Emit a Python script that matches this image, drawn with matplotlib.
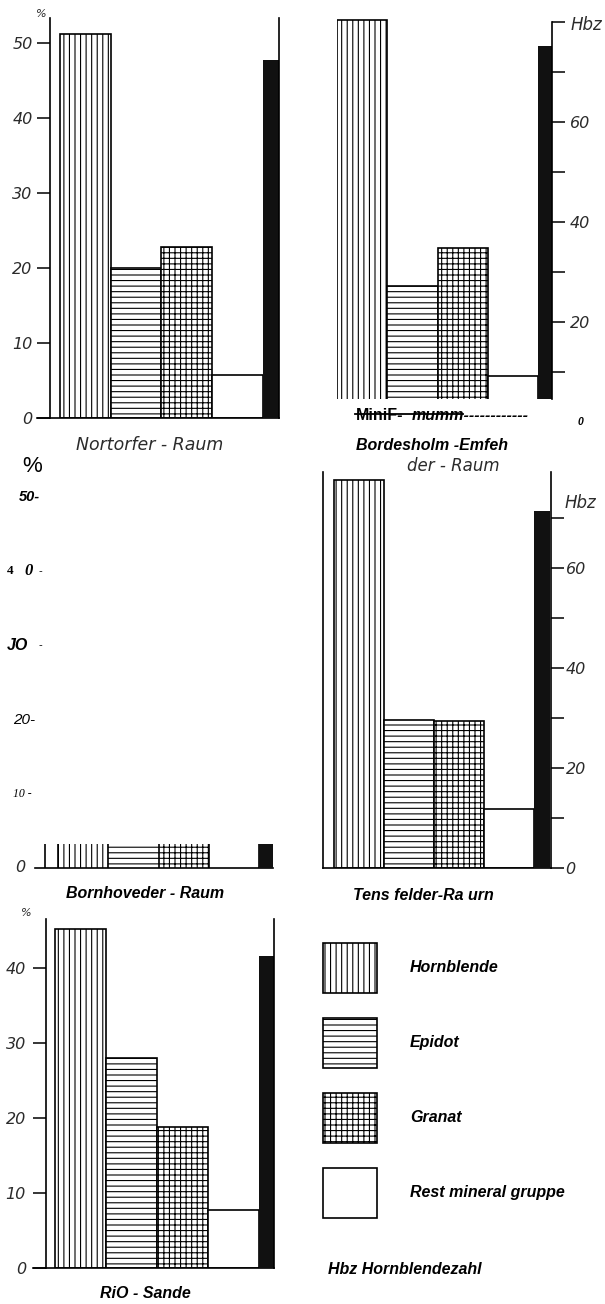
import matplotlib.pyplot as plt
from matplotlib.patches import Patch
from matplotlib.lines import Line2D

W, H = 605, 1304
PX_HBZ = 5.0  # pixels per Hbz unit (right scale)

minerals = ['Hornblende', 'Epidot', 'Granat', 'Rest mineral gruppe']
hatches = ['|||', '---', '+++', '']

# Anteile in %, schwarzer Balken = Hornblendezahl (Hbz)
nortorf = [51.2, 20.0, 22.8, 5.7]
nortorf_hbz = 71.7
bordesholm = [53.6, 18.2, 23.2, 6.2]
bordesholm_hbz = 75.3
bornhoved = [3.2, 3.2, 3.2, 3.2]   # im Scan nur die Stümpfe sichtbar
bornhoved_hbz = 4.8
tensfeld = [51.7, 19.8, 19.6, 7.9]
tensfeld_hbz = 71.4
rio = [45.2, 28.0, 18.8, 7.8]
rio_hbz = 62.4

pct_ticks = [0, 10, 20, 30, 40, 50]
rio_ticks = [0, 10, 20, 30, 40]
bornhoved_labels = ['0', '10 -', '20-', 'JO -', '4 0 -', '50-']
hbz_ticks_top = [10, 20, 30, 40, 50, 60, 70, 80]
hbz_labels_top = ['', '20', '', '40', '', '60', '', '']
hbz_ticks = [0, 10, 20, 30, 40, 50, 60, 70]
hbz_labels = ['0', '', '20', '', '40', '', '60', '']

plt.rcParams['hatch.linewidth'] = 0.8
SCAN = dict(family='DejaVu Sans', style='italic', color='#2b2b2b')
OCR = dict(family='Liberation Sans', style='italic', weight='bold', color='black')

fig = plt.figure(figsize=(W / 100, H / 100), dpi=100)
fig.patch.set_facecolor('white')


def ftext(x, y, s, **kw):
    return fig.text(x / W, 1 - y / H, s, **kw)


def panel(box, bar0, unit, base, vals, hbz, bw, px_pct=7.5, stub=False):
    left, right, top, bottom = box
    ax = fig.add_axes([left / W, 1 - bottom / H, (right - left) / W, (bottom - top) / H])
    ax.set_xlim((left - bar0) / unit, (right - bar0) / unit)
    ax.set_ylim((base - bottom) / px_pct, (base - top) / px_pct)
    tw = ax.twinx()
    lo, hi = ax.get_ylim()
    tw.set_ylim(lo * px_pct / PX_HBZ, hi * px_pct / PX_HBZ)
    for a in (ax, tw):
        a.patch.set_visible(False)
        for s in a.spines.values():
            s.set_visible(False)
            s.set_linewidth(1.2)
        a.set_xticks([])
        a.set_yticks([])
    for i, v in enumerate(vals):
        ax.bar(i, v, width=1, align='edge', facecolor='white', edgecolor='black',
               hatch=hatches[i], linewidth=0 if stub else 1.2)
    if stub:
        # only the sides of the cut-off bars are visible
        ax.vlines(range(len(vals) + 1), 0, max(vals), color='black', linewidth=1.2)
    tw.bar(len(vals), hbz, width=bw, align='edge', color='#111111', linewidth=0)
    return ax, tw


def style_ticks(a, side, pad):
    a.tick_params(axis='y', direction='out', length=9.5, width=1.1, pad=pad,
                  labelsize=11.5, labelcolor='#2b2b2b')
    if side == 'right':
        a.tick_params(axis='y', right=True, labelright=True, left=False, labelleft=False)
    for t in a.get_yticklabels():
        t.set_fontstyle('italic')


# --- Nortorfer-Raum ---
ax, tw = panel((37, 279, 18, 418), 60, 50.7, 418, nortorf, nortorf_hbz, 0.32)
ax.spines['left'].set_visible(True)
ax.spines['left'].set_position(('data', (50 - 60) / 50.7))
ax.spines['bottom'].set_visible(True)
tw.spines['right'].set_visible(True)
ax.set_yticks(pct_ticks)
style_ticks(ax, 'left', 3)
ftext(41, 14, '%', fontsize=8, va='center', ha='center', **SCAN)
ftext(150, 445, 'Nortorfer - Raum', fontsize=12.5, ha='center', va='center', **SCAN)

# --- Bordesholm (unten abgeschnitten) ---
ax, tw = panel((337, 552, 18, 399), 337, 50.25, 422, bordesholm, bordesholm_hbz, 0.28)
tw.spines['right'].set_visible(True)
tw.spines['right'].set_bounds(tw.get_ylim()[0], 80)
tw.set_yticks(hbz_ticks_top, labels=hbz_labels_top)
style_ticks(tw, 'right', 3.5)
ftext(571, 25, 'Hbz', fontsize=12, va='center', ha='left', **SCAN)
ftext(356, 416, 'MiniF-', fontsize=11.5, ha='left', va='center', family='Liberation Sans', weight='bold')
ftext(412, 416, 'mumm------------', fontsize=11.5, ha='left', va='center', **OCR)
fig.add_artist(Line2D([355 / W, 463 / W], [1 - 414 / H, 1 - 414 / H], color='black', linewidth=1.3))
ftext(580, 422, '0', fontsize=7.5, ha='center', va='center', **OCR)
ftext(432, 445, 'Bordesholm -Emfeh', fontsize=11.5, ha='center', va='center', **OCR)
ftext(453, 466, 'der - Raum', fontsize=12, ha='center', va='center', **SCAN)

# --- Bornhoveder-Raum (nur Stümpfe) ---
ax, tw = panel((35, 273, 472, 868), 58, 50.25, 868, bornhoved, bornhoved_hbz, 0.28,
               px_pct=7.42, stub=True)
ax.spines['bottom'].set_visible(True)
ax.vlines((45 - 58) / 50.25, 0, max(bornhoved), color='black', linewidth=1.2)
yt = ax.get_yaxis_transform()
ax.text(-0.04, pct_ticks[0], bornhoved_labels[0], transform=yt, fontsize=11.5, ha='right', va='center', **SCAN)
ax.text(-0.015, pct_ticks[1], bornhoved_labels[1], transform=yt, fontsize=8.5, ha='right', va='center',
        family='Liberation Serif', style='italic')
ax.text(-0.0, pct_ticks[2], bornhoved_labels[2], transform=yt, fontsize=11, ha='right', va='center',
        family='Liberation Sans', style='italic')
ax.text(-0.12, pct_ticks[3], 'JO', transform=yt, fontsize=11.5, ha='left', va='center', **OCR)
ax.text(0.03, pct_ticks[3], '-', transform=yt, fontsize=8, ha='right', va='center', family='Liberation Sans')
ax.text(-0.12, pct_ticks[4], '4', transform=yt, fontsize=9.5, ha='left', va='center',
        family='Liberation Serif', weight='bold')
ax.text(-0.045, pct_ticks[4], '0', transform=yt, fontsize=12, ha='left', va='center',
        family='Liberation Serif', weight='bold', style='italic')
ax.text(0.03, pct_ticks[4], '-', transform=yt, fontsize=8, ha='right', va='center', family='Liberation Sans')
ax.text(0.02, pct_ticks[5], bornhoved_labels[5], transform=yt, fontsize=10.5, ha='right', va='center', **OCR)
ftext(32, 466, '%', fontsize=16, ha='center', va='center', family='Liberation Sans')
ftext(145, 893, 'Bornhoveder - Raum', fontsize=11.5, ha='center', va='center', **OCR)

# --- Tensfelder-Raum ---
ax, tw = panel((323, 551, 472, 868), 334, 50.0, 868, tensfeld, tensfeld_hbz, 0.32)
ax.spines['left'].set_visible(True)
ax.spines['bottom'].set_visible(True)
tw.spines['right'].set_visible(True)
tw.set_yticks(hbz_ticks, labels=hbz_labels)
style_ticks(tw, 'right', 1)
ftext(565, 503, 'Hbz', fontsize=12, va='center', ha='left', **SCAN)
ftext(423, 895, 'Tens felder-Ra urn', fontsize=11.5, ha='center', va='center', **OCR)

# --- RiO-Sande ---
ax, tw = panel((33, 274, 919, 1268), 55, 51.0, 1268, rio, rio_hbz, 0.29)
ax.spines['left'].set_visible(True)
ax.spines['left'].set_position(('data', (46 - 55) / 51.0))
ax.spines['bottom'].set_visible(True)
tw.spines['right'].set_visible(True)
ax.set_yticks(rio_ticks)
style_ticks(ax, 'left', 5)
ftext(26, 913, '%', fontsize=8, va='center', ha='center', **SCAN)
ftext(145, 1293, 'RiO - Sande', fontsize=11.5, ha='center', va='center', **OCR)

# --- Legende ---
handles = [Patch(facecolor='white', edgecolor='black', hatch=h, linewidth=1.2) for h in hatches]
fig.legend(handles, minerals, loc='upper left', bbox_to_anchor=(323 / W, 1 - 943 / H),
           frameon=False, borderpad=0, borderaxespad=0, handlelength=3.39, handleheight=4.44,
           labelspacing=1.565, handletextpad=2.07,
           prop=dict(family='Liberation Sans', style='italic', weight='bold', size=11.5))
ftext(328, 1270, 'Hbz Hornblendezahl', fontsize=11.5, ha='left', va='center', **OCR)

fig.savefig('out.png', dpi=100)
